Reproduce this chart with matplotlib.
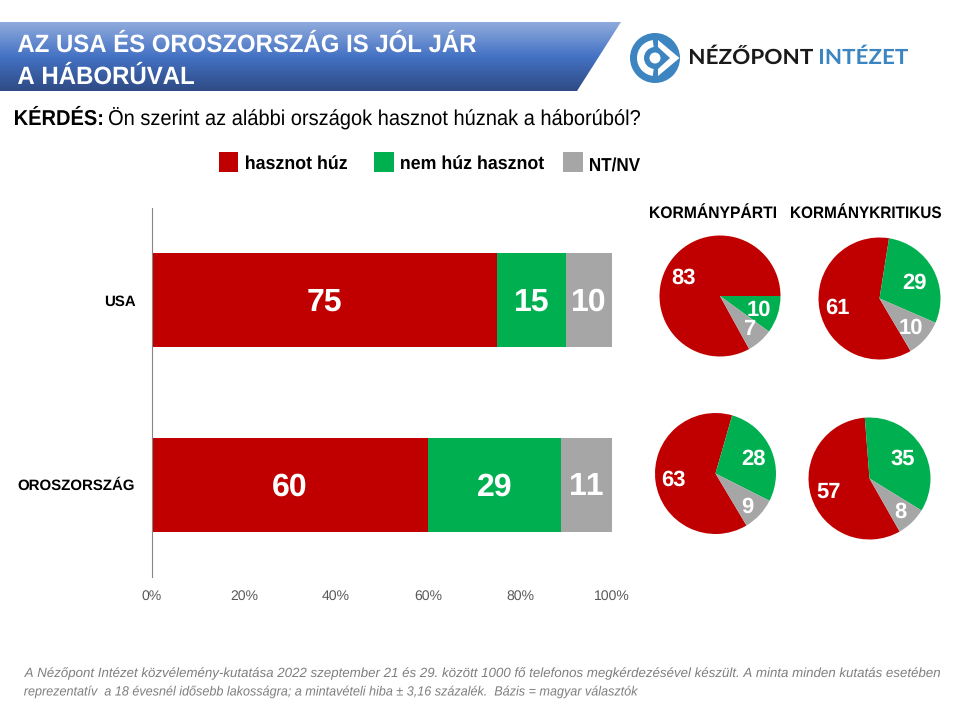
import numpy as np
import matplotlib
matplotlib.use('Agg')
import matplotlib.pyplot as plt
import matplotlib.patheffects as pe
from matplotlib.font_manager import FontProperties
from matplotlib.patches import Polygon, Circle, Rectangle, Wedge
from matplotlib.textpath import TextPath
from matplotlib.transforms import Affine2D, Bbox

plt.rcParams['text.hinting'] = 'no_hinting'
plt.rcParams['text.hinting_factor'] = 1
plt.rcParams['text.kerning_factor'] = 6

W, H = 960, 720
SANS = 'Liberation Sans'

# ---- data ----
categories = ['USA', 'OROSZORSZÁG']
series_names = ['hasznot húz', 'nem húz hasznot', 'NT/NV']
benefit = [75, 60]
no_benefit = [15, 29]
dk = [10, 11]
pie_pro_usa = [83, 10, 7]
pie_crit_usa = [61, 29, 10]
pie_pro_rus = [63, 28, 9]
pie_crit_rus = [57, 35, 8]
ticks = [0, 20, 40, 60, 80, 100]
tick_labels = ['0%', '20%', '40%', '60%', '80%', '100%']

RED, GREEN, GREY = '#C00000', '#00B050', '#A6A6A6'
colors = [RED, GREEN, GREY]

fig = plt.figure(figsize=(9.6, 7.2), dpi=100, facecolor='white')
rend = fig.canvas.get_renderer()


class XScale(pe.AbstractPathEffect):
    """Condense glyphs horizontally about the text's left end."""
    def __init__(self, sx):
        super().__init__()
        self.sx = sx

    def draw_path(self, renderer, gc, tpath, affine, rgbFace=None):
        renderer.draw_path(gc, tpath, Affine2D().scale(self.sx, 1) + affine, rgbFace)


def px_axes(x0, y0, x1, y1, **kw):
    return fig.add_axes([x0 / W, 1 - y1 / H, (x1 - x0) / W, (y1 - y0) / H], **kw)


canvas = px_axes(0, 0, W, H)
canvas.set_xlim(0, W); canvas.set_ylim(H, 0); canvas.axis('off')


def fit_text(x0, x1, base, s, size, family=SANS, weight='normal', style='normal', color='black'):
    """Real text whose ink runs from x0 to x1 pixels, sitting on baseline `base`."""
    prop = FontProperties(family=family, weight=weight, style=style)
    ink = TextPath((0, 0), s, size=size * 100 / 72, prop=prop).get_extents()
    sx = (x1 - x0) / ink.width
    t = canvas.text(x0 - ink.x0 * sx, base, s, size=size, va='baseline', ha='left', zorder=6,
                    family=family, weight=weight, style=style, color=color)
    t.set_path_effects([XScale(sx)])
    orig = t.get_window_extent

    def extent(renderer=None, dpi=None):
        b = orig(renderer, dpi)
        return Bbox.from_extents(b.x0, b.y0, b.x0 + sx * b.width, b.y1)
    t.get_window_extent = extent
    return t


# banner
grad = np.linspace(0, 2, 70)
stops = np.array([[0x8F, 0xAA, 0xDC], [0x44, 0x72, 0xC4], [0x2F, 0x4B, 0x85]]) / 255
img = np.array([[np.interp(g, [0, 1, 2], stops[:, c]) for c in range(3)] for g in grad])[:, None, :]
im = canvas.imshow(img, extent=(0, 621, 91, 22), aspect='auto', zorder=1)
poly = Polygon([(0, 22), (621, 22), (577, 91), (0, 91)], closed=True, fc='none', ec='none')
canvas.add_patch(poly)
im.set_clip_path(poly)
canvas.set_xlim(0, W); canvas.set_ylim(H, 0)
fit_text(18, 476, 52, 'AZ USA ÉS OROSZORSZÁG IS JÓL JÁR', 18, weight='bold', color='white')
fit_text(18, 194, 84, 'A HÁBORÚVAL', 18, weight='bold', color='white')

# logo
LB = '#3D85C0'
cx, cy = 655, 58
canvas.add_patch(Circle((cx, cy), 25, fc=LB, ec='none', zorder=2))
canvas.add_patch(Wedge((cx, cy), 18, 97, 263, width=7, fc='white', ec='none', zorder=3))
canvas.add_patch(Polygon([(cx + 3, cy - 18), (cx + 24.5, cy), (cx + 3, cy + 18), (cx + 3, cy + 11),
                          (cx + 15, cy), (cx + 3, cy - 11)], fc='white', ec='none', zorder=3))
canvas.add_patch(Circle((cx, cy), 5.5, fc='white', ec='none', zorder=5))
fit_text(690, 813, 64, 'NÉZŐPONT', 15, family='Lato', weight='bold', color='#1A1A1A')
fit_text(820, 908, 64, 'INTÉZET', 15, family='Lato', weight='bold', color=LB)

# question
fit_text(15, 102, 125, 'KÉRDÉS:', 15.5, weight='bold')
fit_text(109, 640, 125, 'Ön szerint az alábbi országok hasznot húznak a háborúból?', 15.5)

# legend (custom placed)
for x, w, c, lab, tx0, tx1, ty in [
    (219, 19, RED, series_names[0], 246, 347, 169),
    (374, 20, GREEN, series_names[1], 401, 544, 169),
    (563, 20, GREY, series_names[2], 590, 640, 171)]:
    canvas.add_patch(Rectangle((x, 152), w, 20, fc=c, ec='none'))
    fit_text(tx0, tx1, ty, lab, 13.5, weight='bold')

# stacked bars
ax = px_axes(152, 208, 612, 577)
ax.patch.set_alpha(0)
y = np.arange(len(categories))
left = np.zeros(len(categories))
for vals, c in zip([benefit, no_benefit, dk], colors):
    bars = ax.barh(y, vals, left=left, height=0.51, color=c, edgecolor='none')
    for b, v in zip(bars, vals):
        ax.annotate(str(v), (b.get_x() + b.get_width() / 2, b.get_y() + b.get_height() / 2),
                    xytext=(0, 1), textcoords='offset pixels',
                    ha='center', va='center_baseline', color='white', weight='bold', family=SANS, size=23)
    left += np.array(vals)
ax.set_xlim(0, 100)
ax.set_ylim(1.5, -0.5)
ax.set_yticks(y, categories, family=SANS, weight='bold', size=10.9, color='black')
ax.set_xticks(ticks, tick_labels, family=SANS, size=10, color='#595959')
ax.tick_params(axis='both', length=0)
ax.tick_params(axis='x', pad=9.5)
ax.tick_params(axis='y', pad=12)
for s in ['top', 'right', 'bottom']:
    ax.spines[s].set_visible(False)
ax.spines['left'].set_color('#868686')
ax.spines['left'].set_linewidth(0.8)

# pies: (values, centre x, centre y, radius, angle of red/green boundary, label positions)
pies = [
    (pie_pro_usa, 720, 296, 60.5, 0, [(684, 276), (759, 308), (749, 327)]),
    (pie_crit_usa, 879.5, 298.5, 61, 81, [(837, 306), (914, 281), (911, 326)]),
    (pie_pro_rus, 715.5, 473.5, 60.5, 74, [(673, 478), (753, 457), (747, 505)]),
    (pie_crit_rus, 869.5, 478.5, 61, 94.4, [(829, 490), (903, 457), (900, 510)]),
]
for vals, px, py, r, boundary, labs in pies:
    a = px_axes(px - r, py - r, px + r, py + r)
    a.pie(vals, colors=colors, startangle=boundary + 3.6 * vals[0], counterclock=False, radius=1,
          wedgeprops=dict(linewidth=0))
    a.set_xlim(-1, 1); a.set_ylim(-1, 1)
    for (lx, ly), v in zip(labs, vals):
        canvas.text(lx, ly, str(v), ha='center', va='center_baseline', color='white', weight='bold', family=SANS, size=15.5, zorder=10)
canvas.set_zorder(5); canvas.patch.set_alpha(0)

fit_text(650, 776, 218, 'KORMÁNYPÁRTI', 12, weight='bold')
fit_text(791, 941, 218, 'KORMÁNYKRITIKUS', 12, weight='bold')

# footnote
FOOT = '#7F7F7F'
fit_text(24, 940, 677, 'A Nézőpont Intézet közvélemény-kutatása 2022 szeptember 21 és 29. között 1000 fő telefonos megkérdezésével készült. A minta minden kutatás esetében',
         9.6, style='italic', color=FOOT)
fit_text(24, 638, 695.5, 'reprezentatív  a 18 évesnél idősebb lakosságra; a mintavételi hiba ± 3,16 százalék.  Bázis = magyar választók',
         9.6, style='italic', color=FOOT)

fig.savefig('out.png', dpi=100)
